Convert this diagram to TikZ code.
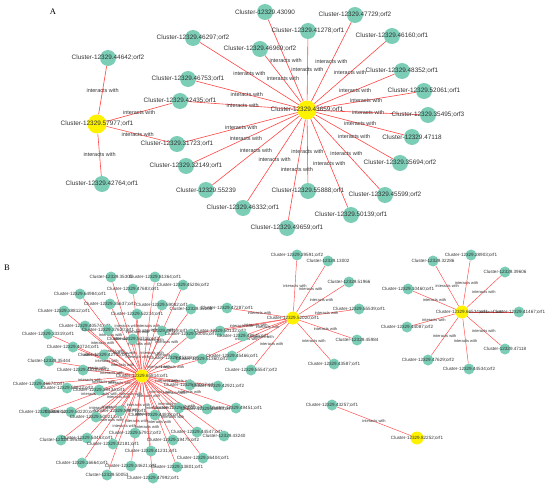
\documentclass[tikz,border=0pt]{standalone}
\usepackage{fontspec}
\setmainfont{Liberation Sans}
\newfontfamily\panelfont{Liberation Serif}

\definecolor{leafgreen}{HTML}{7BCDB6}
\definecolor{linkred}{HTML}{FF4545}
\definecolor{txtgray}{HTML}{333333}

\pgfdeclarelayer{edges}
\pgfsetlayers{edges,main}

\tikzset{
	leaf/.style={circle, fill=leafgreen, inner sep=0pt, minimum size=16pt},
	hub/.style={leaf, fill=yellow, minimum size=19pt},
	leafs/.style={leaf, minimum size=11pt},
	hubs/.style={leafs, fill=yellow, minimum size=13pt},
	tag/.style={text=txtgray, inner sep=0pt, font=\fontsize{6.4}{7}\selectfont},
	tags/.style={tag, font=\fontsize{4.6}{5}\selectfont},
	link/.style={draw=linkred, line width=0.6pt},
	links/.style={draw=linkred, line width=0.45pt},
	elabel/.style={midway, text=txtgray, inner sep=0pt, font=\fontsize{5.5}{6}\selectfont},
	elabels/.style={elabel, font=\fontsize{4}{4.5}\selectfont},
}

\begin{document}
\begin{tikzpicture}[x=1pt, y=-1pt]
	\useasboundingbox (0,0) rectangle (550,487);
	
	% Panel letters
	\node[font=\panelfont\fontsize{8.5}{9}\selectfont] (pA) at (53,12) {A};
	\node[font=\panelfont\fontsize{8.5}{9}\selectfont] (pB) at (7,268) {B};
	
	% Panel A - hubs
	\node[hub, label={[tag]center:Cluster-12329.43659;orf1}] (ha) at (307,110) {};
	\node[hub, label={[tag]center:Cluster-12329.57977;orf1}] (hb) at (97,124) {};
	
	% Panel A - leaves
	\node[leaf, label={[tag]center:Cluster-12329.43090}] (a1) at (265,12) {};
	\node[leaf, label={[tag]center:Cluster-12329.47729;orf2}] (a2) at (355,15) {};
	\node[leaf, label={[tag]center:Cluster-12329.41278;orf1}] (a3) at (308,31) {};
	\node[leaf, label={[tag]center:Cluster-12329.46160;orf1}] (a4) at (392,36) {};
	\node[leaf, label={[tag]center:Cluster-12329.46297;orf2}] (a5) at (193,38) {};
	\node[leaf, label={[tag]center:Cluster-12329.46969;orf2}] (a6) at (260,49) {};
	\node[leaf, label={[tag]center:Cluster-12329.44642;orf2}] (a7) at (108,58) {};
	\node[leaf, label={[tag]center:Cluster-12329.48352;orf1}] (a8) at (402,71) {};
	\node[leaf, label={[tag]center:Cluster-12329.46753;orf1}] (a9) at (188,79) {};
	\node[leaf, label={[tag]center:Cluster-12329.52061;orf1}] (a10) at (424,91) {};
	\node[leaf, label={[tag]center:Cluster-12329.42435;orf1}] (a11) at (180,101) {};
	\node[leaf, label={[tag]center:Cluster-12329.35495;orf3}] (a12) at (428,115) {};
	\node[leaf, label={[tag]center:Cluster-12329.47118}] (a13) at (412,137) {};
	\node[leaf, label={[tag]center:Cluster-12329.31723;orf1}] (a14) at (177,144) {};
	\node[leaf, label={[tag]center:Cluster-12329.35694;orf2}] (a15) at (400,163) {};
	\node[leaf, label={[tag]center:Cluster-12329.32149;orf1}] (a16) at (186,166) {};
	\node[leaf, label={[tag]center:Cluster-12329.42764;orf1}] (a17) at (102,184) {};
	\node[leaf, label={[tag]center:Cluster-12329.55239}] (a18) at (206,190) {};
	\node[leaf, label={[tag]center:Cluster-12329.55888;orf1}] (a19) at (308,191) {};
	\node[leaf, label={[tag]center:Cluster-12329.45599;orf2}] (a20) at (385,195) {};
	\node[leaf, label={[tag]center:Cluster-12329.46332;orf1}] (a21) at (243,208) {};
	\node[leaf, label={[tag]center:Cluster-12329.50139;orf1}] (a22) at (351,215) {};
	\node[leaf, label={[tag]center:Cluster-12329.49659;orf1}] (a23) at (287,228) {};
	
	% Panel B - hubs
	\node[hubs, label={[tags]center:Cluster-12329.65814;orf1}] (h1) at (142,376) {};
	\node[hubs, label={[tags]center:Cluster-12329.52020;orf1}] (h2) at (293,318) {};
	\node[hubs, label={[tags]center:Cluster-12329.66534;orf1}] (h3) at (462,312) {};
	\node[hubs, label={[tags]center:Cluster-12329.82252;orf1}] (h4) at (417,438) {};
	
	% Panel B - leaves of the big hub
	\node[leafs, label={[tags]center:Cluster-12329.35305}] (b1) at (111,277) {};
	\node[leafs, label={[tags]center:Cluster-12329.81364;orf1}] (b2) at (155,277) {};
	\node[leafs, label={[tags]center:Cluster-12329.45206;orf2}] (b3) at (183,285) {};
	\node[leafs, label={[tags]center:Cluster-12329.47683;orf1}] (b4) at (133,289) {};
	\node[leafs, label={[tags]center:Cluster-12329.64984;orf1}] (b5) at (80,294) {};
	\node[leafs, label={[tags]center:Cluster-12329.35637;orf2}] (b6) at (110,304) {};
	\node[leafs, label={[tags]center:Cluster-12329.59082;orf1}] (b7) at (162,305) {};
	\node[leafs, label={[tags]center:Cluster-12329.52214;orf1}] (b8) at (137,314) {};
	\node[leafs, label={[tags]center:Cluster-12329.55208}] (b9) at (191,309) {};
	\node[leafs, label={[tags]center:Cluster-12329.38812;orf1}] (b10) at (64,311) {};
	\node[leafs, label={[tags]center:Cluster-12329.40574;orf1}] (b11) at (85,326) {};
	\node[leafs, label={[tags]center:Cluster-12329.37620;orf1}] (b12) at (108,330) {};
	\node[leafs, label={[tags]center:Cluster-12329.33319;orf1}] (b13) at (48,334) {};
	\node[leafs, label={[tags]center:Cluster-12329.50716;orf2}] (b14) at (133,339) {};
	\node[leafs, label={[tags]center:Cluster-12329.48119;orf1}] (b15) at (162,331) {};
	\node[leafs, label={[tags]center:Cluster-12329.50005;orf1}] (b16) at (191,334) {};
	\node[leafs, label={[tags]center:Cluster-12329.40724;orf1}] (b17) at (73,347) {};
	\node[leafs, label={[tags]center:Cluster-12329.42715;orf1}] (b18) at (104,355) {};
	\node[leafs, label={[tags]center:Cluster-12329.35444}] (b19) at (49,361) {};
	\node[leafs, label={[tags]center:Cluster-12329.45319;orf1}] (b20) at (175,358) {};
	\node[leafs, label={[tags]center:Cluster-12329.51360;orf2}] (b21) at (202,359) {};
	\node[leafs, label={[tags]center:Cluster-12329.48389;orf2}] (b22) at (83,370) {};
	\node[leafs, label={[tags]center:Cluster-12329.46674;orf1}] (b23) at (39,384) {};
	\node[leafs, label={[tags]center:Cluster-12329.56823;orf2}] (b24) at (67,388) {};
	\node[leafs, label={[tags]center:Cluster-12329.39434;orf1}] (b25) at (99,390) {};
	\node[leafs, label={[tags]center:Cluster-12329.35017;orf1}] (b26) at (190,385) {};
	\node[leafs, label={[tags]center:Cluster-12329.42921;orf2}] (b27) at (218,386) {};
	\node[leafs, label={[tags]center:Cluster-12329.38063;orf1}] (b28) at (45,412) {};
	\node[leafs, label={[tags]center:Cluster-12329.50220;orf1}] (b29) at (71,412) {};
	\node[leafs, label={[tags]center:Cluster-12329.50021;orf1}] (b30) at (96,417) {};
	\node[leafs, label={[tags]center:Cluster-12329.53871;orf1}] (b31) at (120,411) {};
	\node[leafs, label={[tags]center:Cluster-12329.44938;orf1}] (b32) at (155,415) {};
	\node[leafs, label={[tags]center:Cluster-12329.54010;orf2}] (b33) at (179,408) {};
	\node[leafs, label={[tags]center:Cluster-12329.48893;orf1}] (b34) at (207,409) {};
	\node[leafs, label={[tags]center:Cluster-12329.49451;orf1}] (b35) at (236,408) {};
	\node[leafs, label={[tags]center:Cluster-12329.39530}] (b36) at (61,440) {};
	\node[leafs, label={[tags]center:Cluster-12329.53453;orf1}] (b37) at (87,438) {};
	\node[leafs, label={[tags]center:Cluster-12329.32181;orf1}] (b38) at (113,444) {};
	\node[leafs, label={[tags]center:Cluster-12329.57912;orf2}] (b39) at (135,433) {};
	\node[leafs, label={[tags]center:Cluster-12329.19475;orf2}] (b40) at (173,440) {};
	\node[leafs, label={[tags]center:Cluster-12329.44547;orf1}] (b41) at (197,432) {};
	\node[leafs, label={[tags]center:Cluster-12329.43240}] (b42) at (224,436) {};
	\node[leafs, label={[tags]center:Cluster-12329.41231;orf1}] (b43) at (151,451) {};
	\node[leafs, label={[tags]center:Cluster-12329.36404;orf1}] (b44) at (203,458) {};
	\node[leafs, label={[tags]center:Cluster-12329.16664;orf1}] (b45) at (82,463) {};
	\node[leafs, label={[tags]center:Cluster-12329.34621;orf1}] (b46) at (131,466) {};
	\node[leafs, label={[tags]center:Cluster-12329.13801;orf1}] (b47) at (177,467) {};
	\node[leafs, label={[tags]center:Cluster-12329.50053}] (b48) at (107,475) {};
	\node[leafs, label={[tags]center:Cluster-12329.47992;orf1}] (b49) at (153,478) {};
	
	% Panel B - leaves of the second hub
	\node[leafs, label={[tags]center:Cluster-12329.29591;orf2}] (d1) at (297,255) {};
	\node[leafs, label={[tags]center:Cluster-12329.13002}] (d2) at (328,261) {};
	\node[leafs, label={[tags]center:Cluster-12329.51966}] (d3) at (349,282) {};
	\node[leafs, label={[tags]center:Cluster-12329.55539;orf1}] (d4) at (359,309) {};
	\node[leafs, label={[tags]center:Cluster-12329.45984}] (d5) at (357,340) {};
	\node[leafs, label={[tags]center:Cluster-12329.43587;orf1}] (d6) at (334,364) {};
	\node[leafs, label={[tags]center:Cluster-12329.47287;orf1}] (d7) at (227,308) {};
	\node[leafs, label={[tags]center:Cluster-12329.50132;orf2}] (d8) at (220,331) {};
	\node[leafs, label={[tags]center:Cluster-12329.48845;orf1}] (d9) at (243,336) {};
	\node[leafs, label={[tags]center:Cluster-12329.45466;orf1}] (d10) at (232,356) {};
	\node[leafs, label={[tags]center:Cluster-12329.55547;orf2}] (d11) at (251,370) {};
	
	% Panel B - leaves of the third hub
	\node[leafs, label={[tags]center:Cluster-12329.32286}] (c1) at (433,261) {};
	\node[leafs, label={[tags]center:Cluster-12329.28903;orf1}] (c2) at (471,255) {};
	\node[leafs, label={[tags]center:Cluster-12329.39606}] (c3) at (505,272) {};
	\node[leafs, label={[tags]center:Cluster-12329.10460;orf1}] (c4) at (408,289) {};
	\node[leafs, label={[tags]center:Cluster-12329.41467;orf1}] (c5) at (519,312) {};
	\node[leafs, label={[tags]center:Cluster-12329.44087;orf2}] (c6) at (407,327) {};
	\node[leafs, label={[tags]center:Cluster-12329.47118}] (c7) at (505,349) {};
	\node[leafs, label={[tags]center:Cluster-12329.47629;orf2}] (c8) at (428,360) {};
	\node[leafs, label={[tags]center:Cluster-12329.44534;orf2}] (c9) at (469,369) {};
	
	% Panel B - the lone pair
	\node[leafs, label={[tags]center:Cluster-12329.43257;orf1}] (e1) at (332,405) {};
	
	% Edges, kept under the nodes
	\begin{pgfonlayer}{edges}
		\foreach \i in {1,2,3,4,5,6,8,9,10,11,12,13,14,15,16,18,19,20,21,22,23}
		\draw[link] (ha) -- node[elabel] {interacts with} (a\i);
		\foreach \i in {7,11,14,17}
		\draw[link] (hb) -- node[elabel] {interacts with} (a\i);
		\foreach \i in {1,...,49}
		\draw[links] (h1) -- node[elabels] {interacts with} (b\i);
		\foreach \i in {1,...,11}
		\draw[links] (h2) -- node[elabels] {interacts with} (d\i);
		\draw[links] (h2) -- node[elabels] {interacts with} (b16);
		\draw[links] (h2) -- node[elabels] {interacts with} (b21);
		\foreach \i in {1,...,9}
		\draw[links] (h3) -- node[elabels] {interacts with} (c\i);
		\draw[links] (h4) -- node[elabels] {interacts with} (e1);
	\end{pgfonlayer}
	
\end{tikzpicture}
\end{document}
